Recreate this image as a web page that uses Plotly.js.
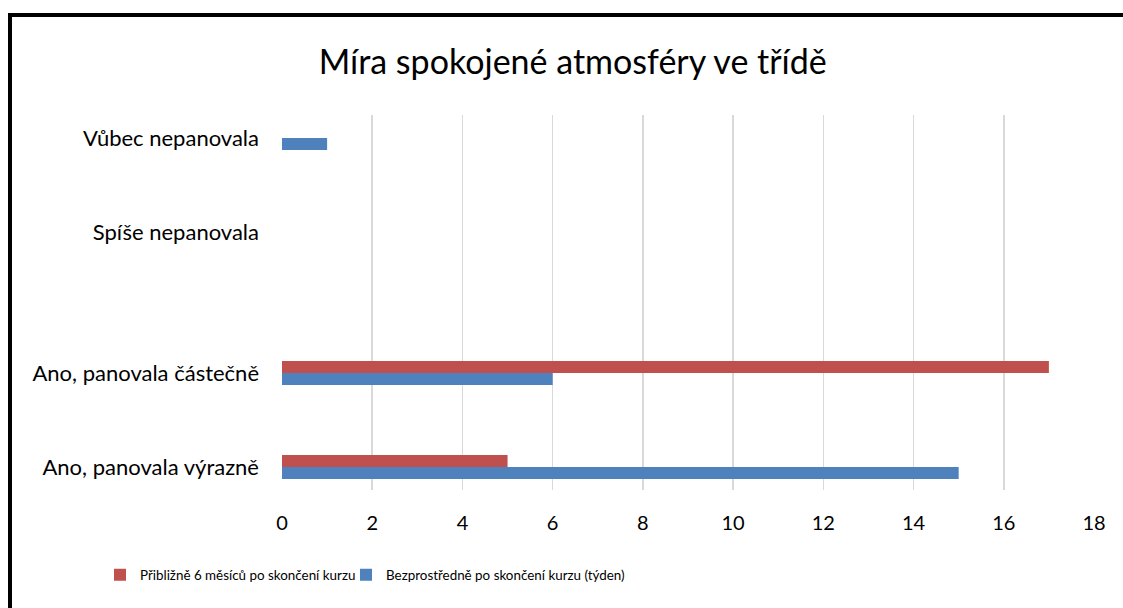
<!DOCTYPE html>
<html><head><meta charset="utf-8">
<script src="https://cdn.plot.ly/plotly-3.0.1.min.js"></script>
<style>
html,body{margin:0;padding:0;background:#fff;overflow:hidden;}
#chart{width:1123px;height:608px;}
#frame{position:absolute;left:8px;top:13px;width:1300px;height:800px;border:4.5px solid #000;pointer-events:none;box-sizing:border-box;}
</style>
</head><body>
<div id="chart"></div>
<div id="frame"></div>
<script>
const categories = ["Ano, panovala výrazně", "Ano, panovala částečně", "Spíše nepanovala", "Vůbec nepanovala"];
const seriesNames = ["Přibližně 6 měsíců po skončení kurzu", "Bezprostředně po skončení kurzu (týden)"];
const after6Months = [5, 17, 0, 0];
const immediately = [15, 6, 0, 1];
const xTicks = [0, 2, 4, 6, 8, 10, 12, 14, 16, 18];

// slot positions of the category rows on the value axis (layout only)
const rowSlots = [0, 1, 2.5, 3.5];
const FONT = "Lato, 'Open Sans', sans-serif";

const traces = [
  {type:'bar', orientation:'h', name:seriesNames[1], x:immediately, y:rowSlots,
   marker:{color:'#4F81BD'}, hoverinfo:'x', legend:'legend2'},
  {type:'bar', orientation:'h', name:seriesNames[0], x:after6Months, y:rowSlots,
   marker:{color:'#C0504D'}, hoverinfo:'x', legend:'legend'}
];

const legendFont = {size:13.4, family:FONT, color:'#000'};
const layout = {
  width:1123, height:608,
  margin:{l:282, r:29, t:115, b:118},
  paper_bgcolor:'#fff', plot_bgcolor:'#fff',
  font:{family:FONT, color:'#000'},
  title:{text:'Míra spokojené atmosféry ve třídě', font:{family:FONT, size:34, color:'#000'},
         x:0.51, xanchor:'center', y:0.898, yref:'container', yanchor:'middle'},
  barmode:'group', bargap:0.745, bargroupgap:0,
  xaxis:{range:[0,18], tickvals:xTicks, ticktext:xTicks.map(String), showgrid:true,
         gridcolor:'#d9d9d9', gridwidth:1.5, zeroline:false, showline:false,
         tickfont:{size:20, family:FONT}, ticks:'', ticklabelstandoff:19, fixedrange:true},
  yaxis:{range:[-0.245, 3.745], tickvals:rowSlots, ticktext:categories, showgrid:false,
         zeroline:false, showline:false, ticks:'', tickfont:{size:22, family:FONT},
         ticklabelstandoff:22, fixedrange:true},
  legend:{orientation:'h', x:(100-282)/812, xanchor:'left', y:-0.227, yanchor:'middle',
          font:legendFont, itemwidth:30, bgcolor:'rgba(0,0,0,0)'},
  legend2:{orientation:'h', x:(346-282)/812, xanchor:'left', y:-0.227, yanchor:'middle',
          font:legendFont, itemwidth:30, bgcolor:'rgba(0,0,0,0)'},
  showlegend:true
};
Plotly.newPlot('chart', traces, layout, {displayModeBar:false, staticPlot:true});
</script>
</body></html>
